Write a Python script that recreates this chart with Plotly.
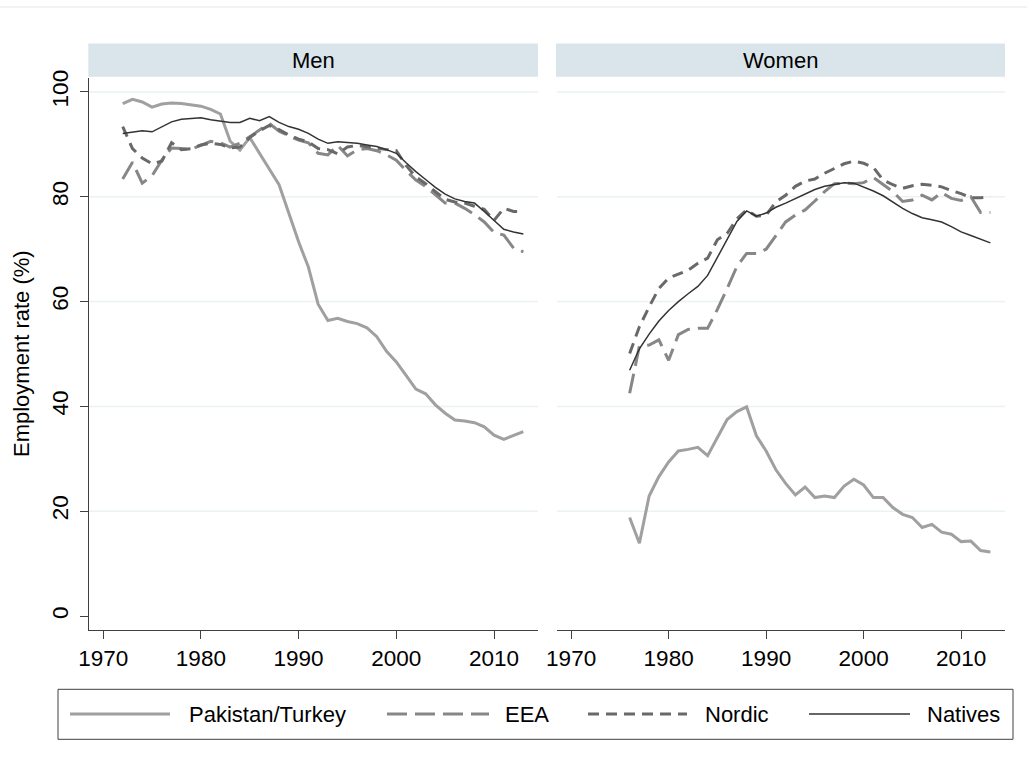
import plotly.graph_objects as go

# ---------------- data ----------------
years_men = list(range(1972, 2014))
years_women = list(range(1976, 2014))

men_pakistan_turkey = [97.8, 98.6, 98.1, 97.1, 97.7, 97.9, 97.8, 97.5, 97.3, 96.7, 95.8,
                       90.6, 88.9, 91.3, 88.2, 85.3, 82.3, 77.0, 71.4, 66.6, 59.5, 56.4,
                       56.8, 56.2, 55.8, 55.0, 53.3, 50.5, 48.5, 45.9, 43.3, 42.4, 40.3,
                       38.7, 37.4, 37.2, 36.9, 36.1, 34.5, 33.7, 34.5, 35.2]
men_eea = [83.4, 86.6, 82.6, 84.0, 87.0, 89.3, 89.2, 89.1, 89.8, 90.6, 90.3,
           89.5, 90.2, 91.5, 92.8, 94.0, 92.5, 91.6, 90.8, 90.3, 88.3, 88.0,
           89.8, 87.8, 89.0, 89.2, 88.8, 88.0, 87.0, 85.0, 83.2, 82.0, 80.4,
           78.8, 78.8, 77.8, 76.6, 75.2, 73.2, 72.7, 70.2, 69.5]
men_nordic = [93.4, 89.2, 87.4, 86.3, 86.8, 90.3, 89.0, 89.2, 89.9, 90.2, 90.0,
              89.3, 89.5, 91.3, 92.6, 93.6, 92.8, 91.8, 91.0, 90.5, 89.2, 89.0,
              88.2, 89.5, 89.8, 89.5, 89.2, 89.0, 88.8, 86.0, 83.8, 82.5, 81.0,
              79.5, 79.0, 78.8, 78.2, 77.6, 75.5, 77.8, 77.2, 77.2]
men_natives = [92.1, 92.4, 92.6, 92.4, 93.4, 94.3, 94.8, 95.0, 95.1, 94.7, 94.4,
               94.2, 94.2, 95.0, 94.5, 95.3, 94.2, 93.4, 92.9, 92.1, 91.0, 90.2,
               90.5, 90.4, 90.2, 89.9, 89.6, 89.0, 88.3, 86.5, 84.8, 83.3, 81.8,
               80.5, 79.6, 79.1, 78.8, 77.2, 75.5, 73.8, 73.3, 72.9]

women_pakistan_turkey = [18.8, 13.9, 22.9, 26.6, 29.4, 31.5, 31.8, 32.2, 30.6, 34.2,
                         37.5, 39.0, 39.9, 34.4, 31.5, 27.9, 25.3, 23.1, 24.6, 22.6,
                         22.9, 22.6, 24.8, 26.1, 25.0, 22.6, 22.6, 20.7, 19.4, 18.8,
                         16.9, 17.5, 16.0, 15.6, 14.2, 14.3, 12.5, 12.2]
women_eea = [42.5, 51.5, 51.7, 52.7, 48.8, 53.7, 54.7, 54.9, 54.9, 58.5,
             62.5, 66.7, 69.2, 69.2, 70.0, 72.5, 75.2, 76.5, 77.5, 79.2,
             81.0, 82.5, 82.6, 82.5, 82.7, 83.7, 82.4, 81.0, 79.1, 79.4,
             80.3, 79.4, 80.8, 79.7, 79.3, 80.0, 77.0, 77.0]
women_nordic = [50.1, 55.2, 59.0, 62.5, 64.5, 65.3, 66.0, 67.3, 68.3, 71.8,
                73.0, 75.8, 77.5, 76.3, 76.5, 79.0, 80.3, 82.0, 83.0, 83.4,
                84.5, 85.4, 86.3, 86.8, 86.4, 85.6, 83.2, 82.3, 81.6, 82.1,
                82.4, 82.2, 81.9, 81.2, 80.6, 79.8, 79.8, 80.0]
women_natives = [46.9, 51.0, 53.8, 56.3, 58.3, 60.0, 61.5, 62.9, 65.0, 68.5,
                 72.0, 75.3, 77.3, 76.3, 76.9, 78.0, 78.8, 79.7, 80.6, 81.4,
                 82.0, 82.4, 82.7, 82.6, 81.9, 81.1, 80.2, 79.0, 77.8, 76.8,
                 76.0, 75.6, 75.2, 74.3, 73.3, 72.6, 71.9, 71.2]

series_names = ["Pakistan/Turkey", "EEA", "Nordic", "Natives"]
panel_titles = ["Men", "Women"]
x_ticks = [1970, 1980, 1990, 2000, 2010]
y_ticks = [0, 20, 40, 60, 80, 100]
y_title = "Employment rate (%)"

# ---------------- style ----------------
W, H = 1027, 769
FONT = "Arial, 'Liberation Sans', sans-serif"
FS = 22
TFS = 22.5
styles = {
    "Pakistan/Turkey": dict(color="#a0a0a0", width=3, dash="solid"),
    "EEA": dict(color="#878787", width=3, dash="20px,8px"),
    "Nordic": dict(color="#696969", width=3, dash="11px,7px"),
    "Natives": dict(color="#333333", width=1.5, dash="solid"),
}


def pxx(p):
    return p / W


def pxy(p):
    return 1 - p / H


fig = go.Figure()

men_data = [men_pakistan_turkey, men_eea, men_nordic, men_natives]
women_data = [women_pakistan_turkey, women_eea, women_nordic, women_natives]

for name, vals in zip(series_names, men_data):
    fig.add_trace(go.Scatter(x=years_men, y=vals, mode="lines", name=name,
                             line=styles[name], xaxis="x", yaxis="y",
                             showlegend=False))
for name, vals in zip(series_names, women_data):
    fig.add_trace(go.Scatter(x=years_women, y=vals, mode="lines", name=name,
                             line=styles[name], xaxis="x2", yaxis="y2",
                             showlegend=False))

plot_top, plot_bottom = 78, 630
men_l, men_r = 89, 538
wom_l, wom_r = 557, 1005
xr = [1968.55, 2014.5]
yr = [-2.67, 102.67]

axis_common = dict(showgrid=False, zeroline=False, ticks="outside", ticklen=8,
                   tickwidth=1.2, tickcolor="#404040", showline=True,
                   linecolor="#404040", linewidth=1.2, automargin=False,
                   tickfont=dict(family=FONT, size=TFS, color="#000000"))

fig.update_layout(
    width=W, height=H,
    margin=dict(l=0, r=0, t=0, b=0, pad=0, autoexpand=False),
    paper_bgcolor="white", plot_bgcolor="white",
    font=dict(family=FONT, size=FS, color="#000000"),
    xaxis=dict(domain=[pxx(men_l), pxx(men_r)], range=xr, tickvals=x_ticks,
               anchor="y", **axis_common),
    yaxis=dict(domain=[pxy(plot_bottom), pxy(plot_top)], range=yr, tickvals=y_ticks,
               tickangle=-90, anchor="x", ticklabelstandoff=3, **axis_common),
    xaxis2=dict(domain=[pxx(wom_l), pxx(wom_r)], range=xr, tickvals=x_ticks,
                anchor="y2", **axis_common),
    yaxis2=dict(domain=[pxy(plot_bottom), pxy(plot_top)], range=yr, tickvals=y_ticks,
                anchor="x2", showgrid=False, zeroline=False, showline=False,
                ticks="", showticklabels=False, automargin=False),
    showlegend=False,
)

shapes = []
# grid lines (no line at 0)
for ax in ["", "2"]:
    for v in y_ticks[1:]:
        shapes.append(dict(type="line", xref=f"x{ax} domain", yref=f"y{ax}",
                           x0=0, x1=1, y0=v, y1=v, layer="below",
                           line=dict(color="#eaf2f3", width=1.5)))
# faint top border of graph region
shapes.append(dict(type="line", xref="paper", yref="paper", x0=0, x1=1,
                   y0=pxy(7), y1=pxy(7), line=dict(color="#e6e6e6", width=1)))
# strips
strip_top, strip_bot = 43.5, 76.7
for (l, r) in [(88.3, 538), (556, 1005)]:
    shapes.append(dict(type="rect", xref="paper", yref="paper",
                       x0=pxx(l), x1=pxx(r), y0=pxy(strip_bot), y1=pxy(strip_top),
                       fillcolor="#d9e5eb", line=dict(width=0), layer="below"))
# legend box
shapes.append(dict(type="rect", xref="paper", yref="paper",
                   x0=pxx(58), x1=pxx(1013), y0=pxy(739.3), y1=pxy(689.3),
                   line=dict(color="#404040", width=1), fillcolor="white"))

annotations = []
for title, (l, r) in zip(panel_titles, [(88.3, 538), (556, 1005)]):
    annotations.append(dict(text=title, xref="paper", yref="paper",
                            x=pxx((l + r) / 2), y=pxy((strip_top + strip_bot) / 2),
                            xanchor="center", yanchor="middle", showarrow=False,
                            font=dict(family=FONT, size=FS, color="#000000")))
annotations.append(dict(text=y_title, xref="paper", yref="paper",
                        x=pxx(22), y=pxy((plot_top + plot_bottom) / 2),
                        xanchor="center", yanchor="middle", textangle=-90,
                        showarrow=False,
                        font=dict(family=FONT, size=FS, color="#000000")))

leg_y = 714
leg_items = [(70, 170, 187), (387, 489, 503), (588, 687, 703), (809, 910, 925)]
for name, (x0, x1, xt) in zip(series_names, leg_items):
    st = styles[name]
    shapes.append(dict(type="line", xref="paper", yref="paper",
                       x0=pxx(x0), x1=pxx(x1), y0=pxy(leg_y), y1=pxy(leg_y),
                       line=dict(color=st["color"], width=st["width"], dash=st["dash"])))
    annotations.append(dict(text=name, xref="paper", yref="paper",
                            x=pxx(xt), y=pxy(leg_y), xanchor="left", yanchor="middle",
                            showarrow=False,
                            font=dict(family=FONT, size=FS, color="#000000")))

fig.update_layout(shapes=shapes, annotations=annotations)

fig.write_html("out.html", post_script="document.body.style.margin='0';",
               config={"displayModeBar": False})
